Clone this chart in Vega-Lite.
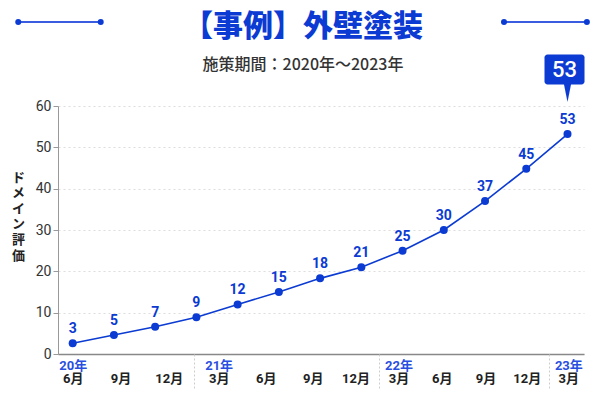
{
  "$schema": "https://vega.github.io/schema/vega-lite/v6.json",
  "autosize": "none",
  "padding": {"left": 58, "top": 106, "right": 16, "bottom": 46},
  "width": 526,
  "height": 248,
  "background": "white",
  "title": {
    "text": "【事例】外壁塗装",
    "subtitle": "施策期間：2020年～2023年",
    "anchor": "middle",
    "frame": "group",
    "dx": -18,
    "offset": -54,
    "font": "Noto Sans CJK JP",
    "fontSize": 30,
    "fontWeight": 900,
    "color": "#0b3bd2",
    "subtitleFont": "Noto Sans CJK JP",
    "subtitleFontSize": 16,
    "subtitleFontWeight": 500,
    "subtitleColor": "#333333",
    "subtitlePadding": 15
  },
  "data": {
    "values": [
      {"i": 0, "v": 2.6},
      {"i": 1, "v": 4.6},
      {"i": 2, "v": 6.6},
      {"i": 3, "v": 8.9},
      {"i": 4, "v": 12},
      {"i": 5, "v": 15},
      {"i": 6, "v": 18.3},
      {"i": 7, "v": 21},
      {"i": 8, "v": 25},
      {"i": 9, "v": 30},
      {"i": 10, "v": 37},
      {"i": 11, "v": 44.8},
      {"i": 12, "v": 53.2}
    ]
  },
  "resolve": {"axis": {"x": "independent"}},
  "layer": [
    {
      "mark": {"type": "line", "color": "#0b3bd2", "strokeWidth": 1.6},
      "encoding": {
        "x": {
          "field": "i",
          "type": "quantitative",
          "scale": {"domain": [-0.356, 12.4], "nice": false, "zero": false},
          "axis": {
            "orient": "bottom",
            "title": null,
            "grid": false,
            "ticks": false,
            "domain": true,
            "domainColor": "#888888",
            "domainWidth": 1.5,
            "values": [0, 1.16, 2.33, 3.54, 4.68, 5.82, 6.86, 7.9, 8.95, 10.01, 11.01, 12.02],
            "labelExpr": "['6月','9月','12月','3月','6月','9月','12月','3月','6月','9月','12月','3月'][indexof([0, 1.16, 2.33, 3.54, 4.68, 5.82, 6.86, 7.9, 8.95, 10.01, 11.01, 12.02], datum.value)]",
            "labelPadding": 18,
            "labelFont": "Roboto, Noto Sans CJK JP",
            "labelFontSize": 13,
            "labelFontWeight": "bold",
            "labelColor": "#222222",
            "labelFlush": false,
            "labelOverlap": false
          }
        },
        "y": {
          "field": "v",
          "type": "quantitative",
          "scale": {"domain": [0, 60], "nice": false},
          "axis": {
            "values": [0, 10, 20, 30, 40, 50, 60],
            "title": ["ド", "メ", "イ", "ン", "評", "価"],
            "titleAngle": 0,
            "titleAlign": "center",
            "titleBaseline": "top",
            "titleX": -40,
            "titleY": 65,
            "titleLineHeight": 15.6,
            "titleFont": "Noto Sans CJK JP",
            "titleFontSize": 13,
            "titleFontWeight": "bold",
            "titleColor": "#222222",
            "grid": true,
            "gridColor": "#dddddd",
            "gridDash": [2, 3],
            "domainColor": "#999999",
            "tickColor": "#999999",
            "tickSize": 5,
            "labelPadding": 2,
            "labelFont": "Roboto",
            "labelFontSize": 14,
            "labelColor": "#333333"
          }
        }
      }
    },
    {
      "mark": {"type": "point", "filled": true, "opacity": 1, "size": 64, "color": "#0b3bd2"},
      "encoding": {
        "x": {
          "field": "i",
          "type": "quantitative",
          "axis": {
            "orient": "bottom",
            "title": null,
            "grid": false,
            "ticks": false,
            "domain": false,
            "values": [0, 3.54, 7.9, 12.02],
            "labelExpr": "['20年','21年','22年','23年'][indexof([0, 3.54, 7.9, 12.02], datum.value)]",
            "labelPadding": 5,
            "labelFont": "Roboto, Noto Sans CJK JP",
            "labelFontSize": 13,
            "labelFontWeight": "bold",
            "labelColor": "#2a4fe0",
            "labelFlush": false,
            "labelOverlap": false
          }
        },
        "y": {"field": "v", "type": "quantitative"}
      }
    },
    {
      "mark": {"type": "text", "dy": -14, "baseline": "middle", "font": "Roboto", "fontSize": 14, "fontWeight": "bold", "color": "#0b3bd2"},
      "encoding": {
        "x": {
          "field": "i",
          "type": "quantitative",
          "axis": {
            "orient": "bottom",
            "title": null,
            "grid": false,
            "domain": false,
            "labels": false,
            "ticks": true,
            "values": [2.94, 7.42, 11.54],
            "tickSize": 34,
            "tickColor": "#cccccc",
            "tickWidth": 1,
            "tickDash": [2, 2]
          }
        },
        "y": {"field": "v", "type": "quantitative"},
        "text": {"field": "v", "type": "quantitative", "format": ".0f"}
      }
    },
    {
      "transform": [{"filter": "datum.i == 12"}],
      "mark": {"type": "rect", "width": 40, "height": 30, "cornerRadius": 3, "color": "#0b3bd2", "xOffset": -3, "yOffset": -64.6},
      "encoding": {
        "x": {"field": "i", "type": "quantitative", "axis": null},
        "y": {"field": "v", "type": "quantitative"}
      }
    },
    {
      "transform": [{"filter": "datum.i == 12"}],
      "mark": {"type": "point", "shape": "M-0.4,-1L0.4,-1L0,1Z", "size": 324, "filled": true, "opacity": 1, "color": "#0b3bd2", "yOffset": -41},
      "encoding": {
        "x": {"field": "i", "type": "quantitative", "axis": null},
        "y": {"field": "v", "type": "quantitative"}
      }
    },
    {
      "transform": [{"filter": "datum.i == 12"}],
      "mark": {"type": "text", "baseline": "middle", "align": "center", "font": "Roboto", "fontSize": 22, "fontWeight": 500, "color": "white", "xOffset": -3, "yOffset": -64},
      "encoding": {
        "x": {"field": "i", "type": "quantitative", "axis": null},
        "y": {"field": "v", "type": "quantitative"},
        "text": {"field": "v", "type": "quantitative", "format": ".0f"}
      }
    },
    {
      "data": {"values": [{}]},
      "mark": {"type": "rule", "color": "#3a5ce0", "strokeWidth": 2},
      "encoding": {
        "x": {"datum": -1.32, "type": "quantitative", "axis": null},
        "x2": {"datum": 0.68},
        "y": {"datum": 80.35, "type": "quantitative"}
      }
    },
    {
      "data": {"values": [{}]},
      "mark": {"type": "rule", "color": "#3a5ce0", "strokeWidth": 2},
      "encoding": {
        "x": {"datum": 10.46, "type": "quantitative", "axis": null},
        "x2": {"datum": 12.47},
        "y": {"datum": 80.35, "type": "quantitative"}
      }
    },
    {
      "data": {"values": [{}]},
      "mark": {"type": "circle", "size": 36, "opacity": 1, "color": "#0b3bd2"},
      "encoding": {
        "x": {"datum": -1.32, "type": "quantitative", "axis": null},
        "y": {"datum": 80.35, "type": "quantitative"}
      }
    },
    {
      "data": {"values": [{}]},
      "mark": {"type": "circle", "size": 36, "opacity": 1, "color": "#0b3bd2"},
      "encoding": {
        "x": {"datum": 0.68, "type": "quantitative", "axis": null},
        "y": {"datum": 80.35, "type": "quantitative"}
      }
    },
    {
      "data": {"values": [{}]},
      "mark": {"type": "circle", "size": 36, "opacity": 1, "color": "#0b3bd2"},
      "encoding": {
        "x": {"datum": 10.46, "type": "quantitative", "axis": null},
        "y": {"datum": 80.35, "type": "quantitative"}
      }
    },
    {
      "data": {"values": [{}]},
      "mark": {"type": "circle", "size": 36, "opacity": 1, "color": "#0b3bd2"},
      "encoding": {
        "x": {"datum": 12.47, "type": "quantitative", "axis": null},
        "y": {"datum": 80.35, "type": "quantitative"}
      }
    }
  ],
  "config": {"view": {"stroke": null}}
}
